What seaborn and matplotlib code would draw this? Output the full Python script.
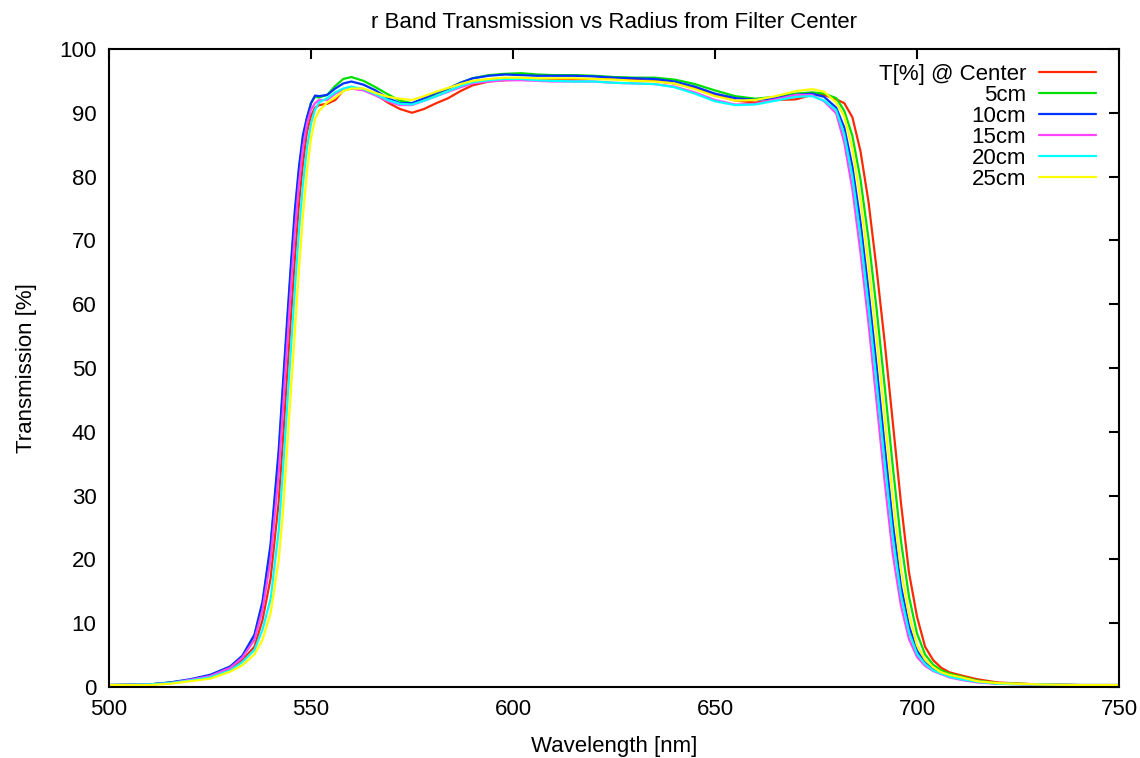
import numpy as np
import pandas as pd
import seaborn as sns
import matplotlib
matplotlib.use("Agg")
import matplotlib.pyplot as plt

# wavelength grid [nm]
wavelength = [500, 510, 515, 520, 525, 530, 533, 536, 538, 540, 542, 543, 544, 545, 546, 547, 548, 549,
              550, 551, 552, 554, 556, 558, 560, 563, 566, 569, 572, 575, 578, 581, 584, 587, 590, 594,
              598, 602, 606, 610, 615, 620, 625, 630, 635, 640, 645, 650, 655, 660, 665, 670, 674, 677,
              680, 682, 684, 686, 688, 690, 692, 694, 696, 698, 700, 702, 704, 706, 708, 711, 715, 720,
              730, 740, 750]

# transmission [%]
t_center = [0.3, 0.4, 0.6, 1.0, 1.6, 2.8, 4.2, 6.3, 10.5, 17.0, 29.0, 38.0, 48.0, 57.5, 67.0, 75.5, 82.0, 87.0,
            89.5, 90.8, 91.2, 91.4, 92.0, 93.5, 93.8, 93.6, 92.9, 91.6, 90.6, 90.0, 90.6, 91.5, 92.3, 93.4, 94.3, 94.9,
            95.1, 95.2, 95.2, 95.2, 95.2, 95.3, 95.3, 95.2, 95.0, 94.6, 93.9, 92.8, 91.9, 91.6, 92.0, 92.1, 92.8, 92.8,
            92.1, 91.5, 89.3, 84.0, 76.0, 65.5, 54.0, 41.5, 29.0, 18.0, 11.0, 6.3, 4.2, 3.0, 2.3, 1.8, 1.2, 0.7,
            0.4, 0.3, 0.3]
t_5cm = [0.3, 0.4, 0.7, 1.1, 1.8, 3.2, 4.8, 8.0, 13.1, 21.8, 36.2, 46.0, 55.6, 65.1, 73.8, 80.7, 86.0, 89.0,
         91.5, 92.5, 92.4, 92.8, 94.2, 95.3, 95.6, 95.0, 94.0, 92.9, 91.9, 91.5, 92.1, 93.0, 93.8, 94.7, 95.4, 95.9,
         96.1, 96.2, 96.0, 95.9, 95.9, 95.8, 95.6, 95.5, 95.5, 95.2, 94.5, 93.5, 92.6, 92.2, 92.5, 93.0, 93.2, 93.0,
         92.3, 90.3, 86.4, 79.6, 70.2, 59.2, 47.1, 34.6, 23.0, 14.2, 8.4, 5.1, 3.5, 2.6, 2.1, 1.6, 1.0, 0.6,
         0.4, 0.3, 0.3]
t_10cm = [0.3, 0.4, 0.7, 1.2, 1.9, 3.2, 4.9, 8.2, 13.4, 22.4, 37.1, 47.0, 56.6, 66.0, 74.7, 81.4, 86.5, 89.3,
          91.5, 92.7, 92.6, 92.8, 93.8, 94.6, 94.9, 94.4, 93.5, 92.3, 91.5, 91.5, 92.3, 93.1, 93.8, 94.7, 95.4, 95.8,
          96.0, 95.9, 95.8, 95.8, 95.8, 95.7, 95.5, 95.4, 95.3, 94.9, 94.1, 93.0, 92.3, 92.0, 92.3, 92.8, 93.0, 92.5,
          90.8, 87.7, 81.6, 72.9, 62.1, 50.3, 37.8, 25.7, 15.9, 9.6, 5.7, 3.8, 2.8, 2.2, 1.85, 1.4, 0.9, 0.5,
          0.4, 0.3, 0.3]
t_15cm = [0.3, 0.4, 0.6, 1.1, 1.7, 3.0, 4.6, 7.4, 12.1, 20.0, 33.5, 43.0, 52.8, 62.3, 71.3, 78.8, 84.5, 88.3,
          90.5, 91.5, 92.0, 92.0, 93.0, 93.6, 93.8, 93.5, 92.7, 91.8, 91.2, 91.2, 91.9, 92.6, 93.3, 94.0, 94.6, 94.9,
          95.1, 95.1, 95.0, 94.9, 94.9, 94.9, 94.7, 94.6, 94.5, 94.1, 93.2, 92.0, 91.3, 91.4, 92.1, 92.8, 92.8, 91.8,
          89.9, 85.3, 78.0, 68.1, 56.9, 44.6, 32.1, 20.8, 12.8, 7.5, 4.7, 3.3, 2.5, 2.0, 1.5, 1.1, 0.7, 0.5,
          0.4, 0.3, 0.3]
t_20cm = [0.3, 0.4, 0.6, 1.0, 1.5, 2.6, 3.9, 5.8, 9.0, 13.8, 24.5, 33.5, 43.0, 52.8, 62.3, 71.3, 78.8, 84.5,
          88.3, 90.5, 91.6, 92.3, 93.2, 93.8, 94.1, 93.7, 92.9, 92.0, 91.4, 91.3, 91.9, 92.6, 93.4, 94.2, 94.8, 95.1,
          95.3, 95.3, 95.1, 95.0, 94.9, 94.9, 94.7, 94.6, 94.5, 94.0, 93.0, 91.8, 91.2, 91.3, 91.9, 92.5, 92.6, 91.9,
          90.4, 86.6, 80.0, 70.7, 59.7, 47.7, 35.2, 23.5, 14.5, 8.6, 5.2, 3.6, 2.6, 2.1, 1.6, 1.2, 0.8, 0.5,
          0.4, 0.3, 0.3]
t_25cm = [0.3, 0.3, 0.5, 0.9, 1.3, 2.4, 3.4, 5.1, 7.4, 11.5, 19.8, 26.8, 36.4, 46.1, 55.6, 65.2, 73.8, 80.7,
          86.0, 89.0, 90.3, 91.6, 92.4, 93.4, 93.8, 93.8, 93.1, 92.5, 92.2, 92.0, 92.6, 93.3, 93.9, 94.5, 95.0, 95.3,
          95.5, 95.5, 95.4, 95.4, 95.4, 95.3, 95.2, 95.0, 94.9, 94.6, 93.7, 92.6, 91.9, 92.0, 92.6, 93.4, 93.7, 93.3,
          91.6, 89.4, 84.3, 76.4, 66.0, 54.6, 42.1, 29.6, 18.6, 11.4, 6.5, 4.3, 3.1, 2.3, 1.9, 1.5, 0.9, 0.6,
          0.4, 0.3, 0.3]

labels = ['T[%] @ Center', '5cm', '10cm', '15cm', '20cm', '25cm']
series = [t_center, t_5cm, t_10cm, t_15cm, t_20cm, t_25cm]
colors = ['#ff2800', '#00e000', '#0033ff', '#ff44ff', '#00ffff', '#ffff00']

sns.set_theme(style="white")
plt.rcParams['font.family'] = ['Liberation Sans', 'DejaVu Sans']
plt.rcParams['text.color'] = 'black'
plt.rcParams['axes.labelcolor'] = 'black'

fig = plt.figure(figsize=(11.4, 7.58), dpi=100)
ax = fig.add_axes([0.0956, 0.0937, 0.886, 0.8417])

for lab, vals, col in zip(labels, series, colors):
    df = pd.DataFrame({'wl': wavelength, 'T': vals})
    sns.lineplot(data=df, x='wl', y='T', color=col, linewidth=1.6, label=lab, ax=ax, sort=False)

ax.set_xlim(500, 750)
ax.set_ylim(0, 100)
ax.set_xticks(np.arange(500, 751, 50))
ax.set_yticks(np.arange(0, 101, 10))
ax.tick_params(direction='in', top=True, right=True, length=7, width=1.5, labelsize=16, pad=9, colors='black')
for sp in ax.spines.values():
    sp.set_color('black')
    sp.set_linewidth(1.5)

ax.set_title('r Band Transmission vs Radius from Filter Center', fontsize=16, pad=15, color='black')
ax.set_xlabel('Wavelength [nm]', fontsize=16, labelpad=11)
ax.set_ylabel('Transmission [%]', fontsize=16, labelpad=16)

leg = ax.legend(loc='upper right', bbox_to_anchor=(0.986, 0.99), frameon=False, markerfirst=False,
                fontsize=16, handlelength=2.55, handletextpad=0.6, labelspacing=0.0, borderaxespad=0)
for t in leg.get_texts():
    t.set_color('black')

plt.savefig('out.png', dpi=100)
